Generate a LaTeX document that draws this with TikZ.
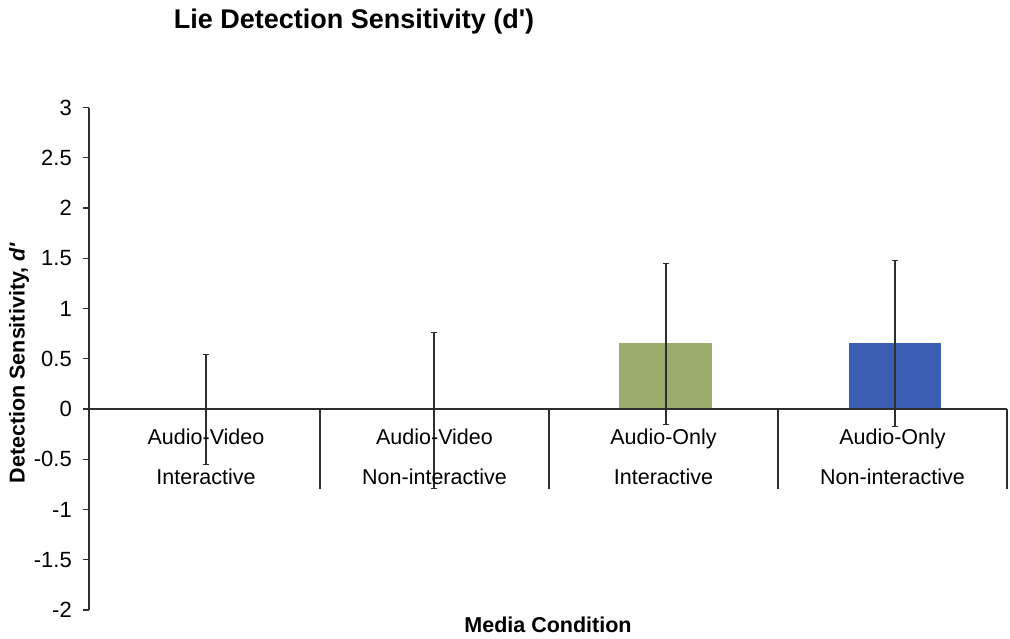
\documentclass[tikz,border=0pt]{standalone}
\usepackage{fontspec}
\setmainfont{Liberation Sans}
\usetikzlibrary{positioning, calc}
\definecolor{olivebar}{HTML}{9AAB6B}
\definecolor{bluebar}{HTML}{3B5EB3}
\definecolor{inkgray}{HTML}{2E2E2E}

\begin{document}
\begin{tikzpicture}[x=1pt, y=-1pt,
    axisline/.style={draw=inkgray, line width=1.4pt},
    errbar/.style={draw=inkgray, line width=1.1pt},
    ticklabel/.style={anchor=east, inner sep=0pt, font=\fontsize{22}{26}\selectfont},
    catlabel/.style={align=center, inner sep=0pt, font=\fontsize{21.5}{40}\selectfont},
    headline/.style={inner sep=0pt, font=\bfseries\fontsize{21.5}{26}\selectfont}]
    \useasboundingbox (0,0) rectangle (1010,638);

    % titles
    \node[headline, font=\bfseries\fontsize{27}{32}\selectfont] (title) at (354,22) {Lie Detection Sensitivity (d\textquotesingle)};
    \node[headline] (xlabel) at (548,625) {Media Condition};
    \node[headline, rotate=90] (ylabel) at (19,363) {Detection Sensitivity, \textit{d\textquotesingle}};

    % data part, y in units of d'
    \begin{scope}[yshift=-409pt, y=100.5pt]
        \fill[olivebar] (619,0) rectangle (712,0.66);
        \fill[bluebar] (849,0) rectangle (941,0.66);

        \draw[axisline] (89,3) -- (89,-2);
        \foreach \v [count=\i] in {-2,-1.5,-1,-0.5,0,0.5,1,1.5,2,2.5,3} {
            \draw[axisline] (83,\v) -- (89,\v);
            \node[ticklabel] (tick\i) at (72,\v) {\v};
        }
        \draw[axisline] (89,0) -- (1007,0);
        \foreach \sx in {320,549,778,1007}
            \draw[axisline] (\sx,0) -- (\sx,-0.8);

        % error bars
        \foreach \ex/\lo/\hi in {206/-0.55/0.54, 434/-0.79/0.76, 666/-0.15/1.45, 895/-0.17/1.48} {
            \draw[errbar] (\ex,\lo) -- (\ex,\hi);
            \draw[errbar] (\ex-3,\lo) -- (\ex+3,\lo);
            \draw[errbar] (\ex-3,\hi) -- (\ex+3,\hi);
        }
    \end{scope}

    % category labels
    \node[catlabel] (cat1) at (206,457) {Audio-Video\\Interactive};
    \node[catlabel] (cat2) at (434.5,457) {Audio-Video\\Non-interactive};
    \node[catlabel] (cat3) at (663.5,457) {Audio-Only\\Interactive};
    \node[catlabel] (cat4) at (892.5,457) {Audio-Only\\Non-interactive};
\end{tikzpicture}
\end{document}
